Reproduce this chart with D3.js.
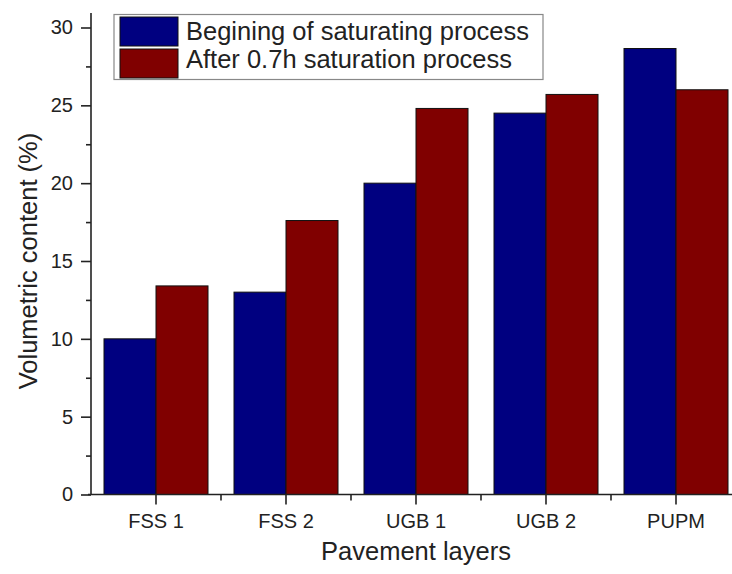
<!DOCTYPE html>
<html>
<head>
<meta charset="utf-8">
<script src="https://cdn.jsdelivr.net/npm/d3@7"></script>
<style>
  html, body { margin: 0; padding: 0; background: #fff; }
  svg { display: block; font-family: "Liberation Sans", Arial, sans-serif; }
</style>
</head>
<body>
<svg id="chart" width="732" height="574"></svg>
<script>
const categories = ["FSS 1", "FSS 2", "UGB 1", "UGB 2", "PUPM"];
const seriesNames = ["Begining of saturating process", "After 0.7h saturation process"];
const beginValues = [10.0, 13.0, 20.0, 24.5, 28.65];
const afterValues = [13.4, 17.6, 24.8, 25.7, 26.0];
const seriesColors = ["#000080", "#800000"];
const yTicks = [0, 5, 10, 15, 20, 25, 30];
const yMinorTicks = [2.5, 7.5, 12.5, 17.5, 22.5, 27.5];
const yLabel = "Volumetric content (%)";
const xLabel = "Pavement layers";

const svg = d3.select("#chart");
const x0 = 91, x1 = 741, yTop = 27.5, yBottom = 494.5;
const FONT = "Liberation Sans, Arial, sans-serif";

const x = d3.scaleBand().domain(categories).range([x0, x1]).paddingInner(0).paddingOuter(0);
const y = d3.scaleLinear().domain([0, 30]).range([yBottom, yTop]);

const series = [beginValues, afterValues];
const barW = x.bandwidth() * 0.4;

// bars
series.forEach((vals, si) => {
  svg.append("g").selectAll("rect").data(categories).join("rect")
    .attr("x", (d) => x(d) + x.bandwidth() / 2 - barW + si * barW)
    .attr("y", (d, i) => y(vals[i]))
    .attr("width", barW)
    .attr("height", (d, i) => y(0) - y(vals[i]))
    .attr("fill", seriesColors[si])
    .attr("stroke", "#111")
    .attr("stroke-width", 1);
});

// y axis
const yAxis = svg.append("g").attr("transform", `translate(${x0},0)`)
  .call(d3.axisLeft(y).tickValues(yTicks).tickSize(10).tickPadding(8).tickFormat(d3.format("d")));
yAxis.select(".domain").attr("d", `M0,${y(0)}V${13}`).attr("stroke", "#222").attr("stroke-width", 1.6);
yAxis.selectAll(".tick line").attr("stroke", "#222").attr("stroke-width", 1.6);
yAxis.selectAll(".tick text").attr("font-size", 20).attr("fill", "#222").attr("font-family", FONT);
svg.append("g").attr("transform", `translate(${x0},0)`)
  .call(d3.axisLeft(y).tickValues(yMinorTicks).tickSize(5).tickFormat(""))
  .call(g => g.select(".domain").remove())
  .selectAll(".tick line").attr("stroke", "#222").attr("stroke-width", 1.6);

// x axis
const xAxis = svg.append("g").attr("transform", `translate(0,${yBottom})`)
  .call(d3.axisBottom(x).tickSize(10).tickPadding(9));
xAxis.select(".domain").attr("d", `M${x0 - 3},0H732`).attr("stroke", "#222").attr("stroke-width", 1.6);
xAxis.selectAll(".tick line").attr("stroke", "#222").attr("stroke-width", 1.6);
xAxis.selectAll(".tick text").attr("font-size", 20).attr("fill", "#222").attr("font-family", FONT);
// minor x ticks between categories
svg.append("g").selectAll("line").data(categories.slice(0, -1)).join("line")
  .attr("x1", d => x(d) + x.bandwidth()).attr("x2", d => x(d) + x.bandwidth())
  .attr("y1", yBottom).attr("y2", yBottom + 6)
  .attr("stroke", "#222").attr("stroke-width", 1.6);

// axis labels
svg.append("text").attr("x", 416).attr("y", 560).attr("text-anchor", "middle")
  .attr("font-size", 25.5).attr("fill", "#222").text(xLabel);
svg.append("text").attr("transform", "translate(37,261) rotate(-90)").attr("text-anchor", "middle")
  .attr("font-size", 25.5).attr("fill", "#222").text(yLabel);

// legend
const lg = svg.append("g");
lg.append("rect").attr("x", 114).attr("y", 14.5).attr("width", 429).attr("height", 65)
  .attr("fill", "#fff").attr("stroke", "#888").attr("stroke-width", 1.2);
seriesNames.forEach((name, i) => {
  lg.append("rect").attr("x", 120).attr("y", 17 + i * 32).attr("width", 58).attr("height", 29)
    .attr("fill", seriesColors[i]).attr("stroke", "#111").attr("stroke-width", 1);
  lg.append("text").attr("x", 186).attr("y", 39.5 + i * 28.5).attr("font-size", 25.5)
    .attr("fill", "#222").text(name);
});
</script>
</body>
</html>
